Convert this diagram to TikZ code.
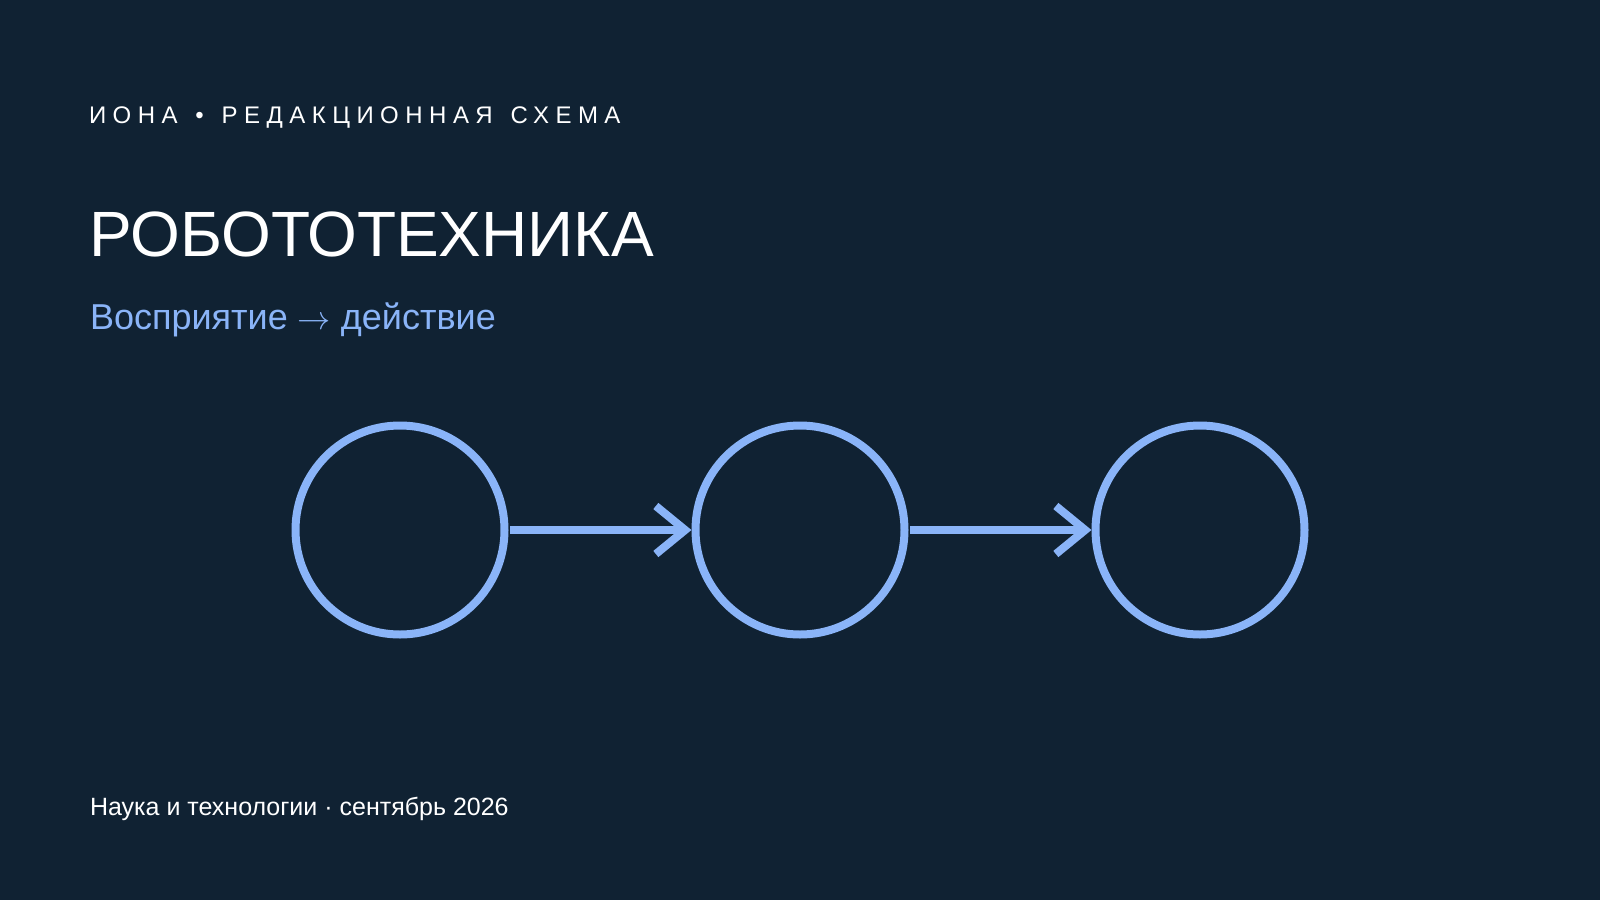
\documentclass[tikz,border=0pt]{standalone}
\usepackage{fontspec}
\setmainfont{Liberation Sans}
\newfontfamily\kickerfont[LetterSpace=27,WordSpace=1.35]{Liberation Sans}
\usetikzlibrary{arrows.meta}
\definecolor{bgnavy}{HTML}{102233}
\definecolor{lineblue}{HTML}{8AB4F8}
\begin{document}
\begin{tikzpicture}
      [x=0.75pt,y=-0.75pt,line width=6pt,
      stage node/.style={circle,draw=lineblue,minimum size=156.75pt,inner sep=0pt},
      flow/.style={draw=lineblue,shorten <=1.1pt,
        -{Straight Barb[length=22pt,width=36pt]}},
      slide text/.style={anchor=base west,inner sep=0pt,text=white}]
      \fill[bgnavy] (0,0) rectangle (1600,900);
      \useasboundingbox (0,0) rectangle (1600,900);
      \node[slide text,font=\kickerfont\fontsize{18pt}{22pt}\selectfont] (kicker) at (85,123) {ИОНА • РЕДАКЦИОННАЯ СХЕМА};
      \node[slide text,font=\fontsize{48pt}{56pt}\selectfont] (title) at (85,256) {РОБОТОТЕХНИКА};
      \node[slide text,text=lineblue,font=\fontsize{27pt}{32pt}\selectfont] (subtitle) at (86,329) {Восприятие $\rightarrow$ действие};
      \node[slide text,font=\fontsize{18.75pt}{22pt}\selectfont] (footer) at (86,815) {Наука и технологии · сентябрь 2026};
      \node[stage node] (s1) at (400,530) {};
      \node[stage node] (s2) at (800,530) {};
      \node[stage node] (s3) at (1200,530) {};
      \path (s1) edge[flow] (s2);
      \path (s2) edge[flow] (s3);
    \end{tikzpicture}
\end{document}
